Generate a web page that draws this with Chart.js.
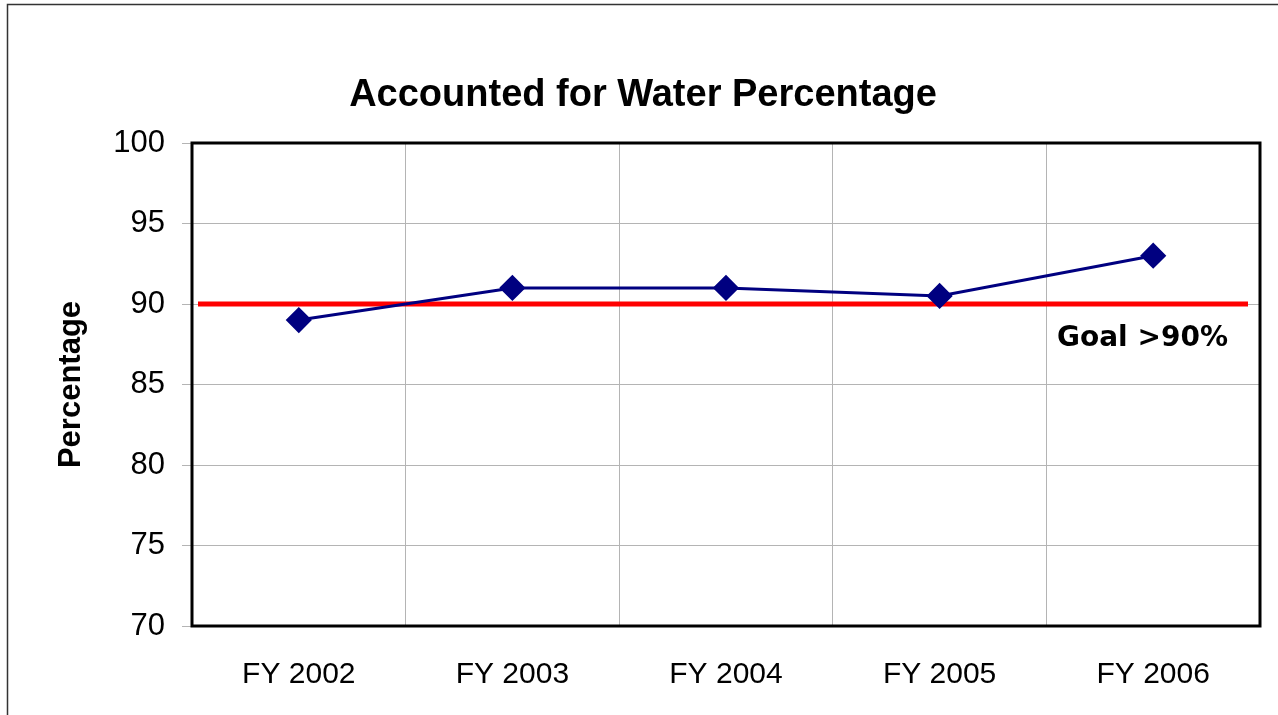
<!DOCTYPE html>
<html>
<head>
<meta charset="utf-8">
<script src="https://cdn.jsdelivr.net/npm/chart.js@4"></script>
<style>
  html, body { margin: 0; padding: 0; background: #fff; }
  #wrap { width: 1278px; height: 715px; position: relative; }
</style>
</head>
<body>
<div id="wrap"><canvas id="waterChart" width="1278" height="715"></canvas></div>
<script>
// Chart data
const years = ["FY 2002", "FY 2003", "FY 2004", "FY 2005", "FY 2006"];
const accountedPct = [89, 91, 91, 90.5, 93];
const goalValue = 90;
const goalLabel = "Goal >90%";
const chartTitle = "Accounted for Water Percentage";
const yTitle = "Percentage";

// Frame, plot border, goal line and texts drawn on top of the chart
const decorations = {
  id: "decorations",
  beforeDatasetsDraw(chart) {
    const ctx = chart.ctx;
    const a = chart.chartArea;
    const y = chart.scales.y.getPixelForValue(goalValue);
    ctx.save();
    // goal line
    ctx.strokeStyle = "#ff0000";
    ctx.lineWidth = 5;
    ctx.beginPath();
    ctx.moveTo(a.left + 6, y);
    ctx.lineTo(a.right - 12, y);
    ctx.stroke();
    ctx.restore();
  },
  afterDraw(chart) {
    const ctx = chart.ctx;
    const a = chart.chartArea;
    const y = chart.scales.y.getPixelForValue(goalValue);
    ctx.save();
    // outer frame
    ctx.strokeStyle = "#333";
    ctx.lineWidth = 1.5;
    ctx.strokeRect(7.5, 4.5, 1300, 800);
    // plot border
    ctx.strokeStyle = "#000";
    ctx.lineWidth = 3;
    ctx.strokeRect(a.left, a.top, a.right - a.left, a.bottom - a.top);
    // title
    ctx.fillStyle = "#000";
    ctx.font = "bold 38px 'Liberation Sans', Arial, sans-serif";
    ctx.textAlign = "center";
    ctx.textBaseline = "middle";
    ctx.fillText(chartTitle, 643, 96);
    // goal label
    ctx.font = "bold 28px 'DejaVu Sans', Verdana, sans-serif";
    ctx.textAlign = "left";
    ctx.fillText(goalLabel, 1057, y + 35);
    ctx.restore();
  }
};

new Chart(document.getElementById("waterChart"), {
  type: "line",
  data: {
    labels: years,
    datasets: [{
      data: accountedPct,
      borderColor: "#000080",
      backgroundColor: "#000080",
      borderWidth: 3,
      pointStyle: "rectRot",
      pointRadius: 11,
      pointHoverRadius: 11,
      tension: 0
    }]
  },
  options: {
    responsive: false,
    animation: false,
    layout: { padding: { top: 143, right: 18, left: 0, bottom: 0 } },
    plugins: {
      legend: { display: false },
      title: { display: false },
      tooltip: { enabled: false }
    },
    scales: {
      x: {
        offset: true,
        grid: { offset: true, color: "#b4b4b4", lineWidth: 1, drawTicks: false },
        border: { display: false },
        ticks: {
          color: "#000",
          padding: 31,
          font: { family: "'Liberation Sans', Arial, sans-serif", size: 30 }
        },
        afterFit(scale) { scale.height = 89; }
      },
      y: {
        min: 70,
        max: 100,
        grid: { color: "#b4b4b4", lineWidth: 1, tickLength: 10 },
        border: { display: false },
        ticks: {
          stepSize: 5,
          color: "#000",
          padding: 17,
          font: { family: "'Liberation Sans', Arial, sans-serif", size: 31 }
        },
        title: {
          display: true,
          text: yTitle,
          color: "#000",
          padding: { top: 53, bottom: 0 },
          font: { family: "'Liberation Sans', Arial, sans-serif", size: 31, weight: "bold" }
        },
        afterFit(scale) { scale.width = 192; }
      }
    }
  },
  plugins: [decorations]
});
</script>
</body>
</html>
